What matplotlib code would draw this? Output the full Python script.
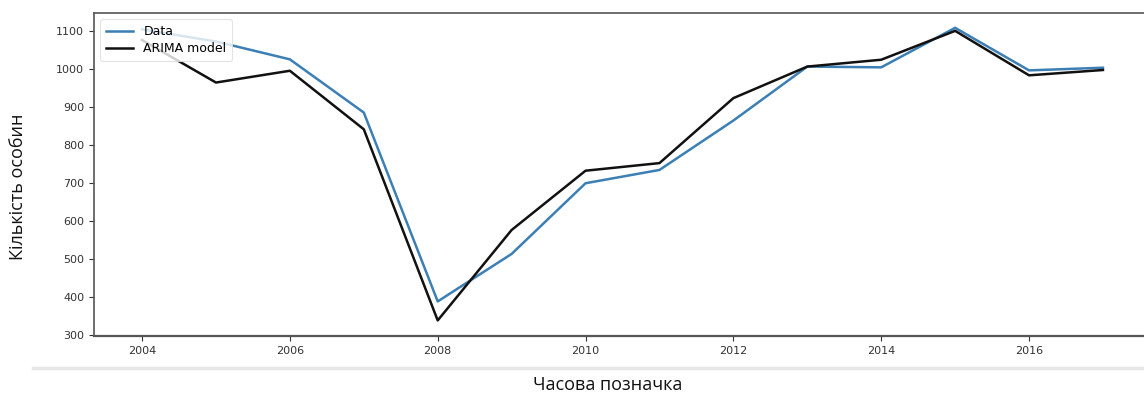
import matplotlib
matplotlib.use("Agg")
import matplotlib.pyplot as plt
from matplotlib.lines import Line2D

years = [2004, 2005, 2006, 2007, 2008, 2009, 2010, 2011, 2012, 2013, 2014, 2015, 2016, 2017]
data = [1104, 1072, 1025, 885, 388, 513, 699, 734, 864, 1006, 1004, 1108, 996, 1003]
arima = [1076, 964, 995, 841, 338, 576, 732, 752, 923, 1006, 1024, 1100, 983, 997]

xticks = [2004, 2006, 2008, 2010, 2012, 2014, 2016]
yticks = [300, 400, 500, 600, 700, 800, 900, 1000, 1100]

W, H = 1144, 394
fig = plt.figure(figsize=(W / 100, H / 100), dpi=100)

# axes frame extends past the right edge of the canvas
left, right, top, bottom = 94, 1151, 13, 336
ax = fig.add_axes([left / W, 1 - bottom / H, (right - left) / W, (bottom - top) / H])

ax.plot(years, data, color="#3b7fb4", lw=1.8, label="Data")
ax.plot(years, arima, color="#111111", lw=1.8, label="ARIMA model")

ax.set_xlim(2003.35, 2017.65)
ax.set_ylim(297, 1147)
ax.set_xticks(xticks)
ax.set_yticks(yticks)
ax.tick_params(labelsize=8, colors="#333333", length=3.5, width=0.8)

for side in ["left", "top", "bottom", "right"]:
    ax.spines[side].set_color("#555555")
ax.spines["bottom"].set_linewidth(1.6)
ax.spines["left"].set_linewidth(1.2)
ax.spines["top"].set_linewidth(1.2)

leg = ax.legend(loc="upper left", fontsize=9, frameon=True, borderaxespad=0.5,
                handlelength=2.2, labelspacing=0.35, borderpad=0.45)
leg.get_frame().set_edgecolor("#dddddd")
leg.get_frame().set_linewidth(0.8)

# thin grey rule under the plot
fig.add_artist(Line2D([33 / W, 1.0], [1 - 368 / H, 1 - 368 / H], color="#e6e6e6", lw=2.5))

fig.text(608 / W, 1 - 385 / H, "Часова позначка", ha="center", va="center",
         fontsize=13, family="Open Sans", color="#111111")
fig.text(18 / W, 1 - 187 / H, "Кількість особин", ha="center", va="center",
         rotation=90, fontsize=13, family="Open Sans", color="#111111")

fig.savefig("out.png", dpi=100)
